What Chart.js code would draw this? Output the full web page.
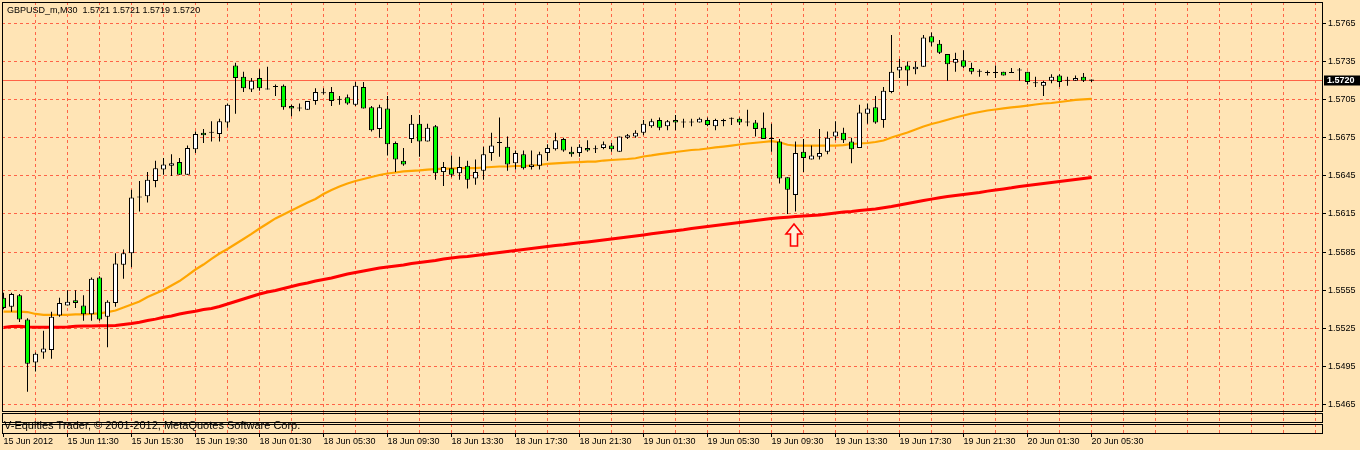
<!DOCTYPE html>
<html><head><meta charset="utf-8">
<script src="https://cdn.jsdelivr.net/npm/chart.js@4.4.1/dist/chart.umd.min.js"></script>
<style>html,body{margin:0;padding:0;background:#FFE4B5;overflow:hidden}canvas{display:block}</style>
</head><body>
<canvas id="c" width="1360" height="450"></canvas>
<script>
const symbolTitle = 'GBPUSD_m,M30';
const copyrightText = 'V-Equities Trader, \u00A9 2001-2012, MetaQuotes Software Corp.';
const timeLabels = ['15 Jun 2012','15 Jun 11:30','15 Jun 15:30','15 Jun 19:30','18 Jun 01:30','18 Jun 05:30',
  '18 Jun 09:30','18 Jun 13:30','18 Jun 17:30','18 Jun 21:30','19 Jun 01:30','19 Jun 05:30',
  '19 Jun 09:30','19 Jun 13:30','19 Jun 17:30','19 Jun 21:30','20 Jun 01:30','20 Jun 05:30'];
const priceTicks = [1.5765,1.5735,1.5705,1.5675,1.5645,1.5615,1.5585,1.5555,1.5525,1.5495,1.5465];

const openP = [1.5549,1.5542,1.5551,1.5532,1.5498,1.5506,1.5508,1.5535,1.5543,1.5547,
1.5543,1.5536,1.5565,1.5534,1.5545,1.5575,1.5584,1.5628,1.5629,1.5641,
1.5650,1.5653,1.5656,1.5646,1.5666,1.5679,1.5679,1.5678,1.5687,1.5732,
1.5723,1.5713,1.5722,1.5713,1.5715,1.5716,1.5700,1.5698,1.5697,1.5704,
1.5710,1.5711,1.5705,1.5707,1.5701,1.5715,1.5699,1.5682,1.5698,1.5671,
1.5657,1.5674,1.5686,1.5672,1.5684,1.5648,1.5651,1.5647,1.5653,1.5643,
1.5649,1.5663,1.5671,1.5668,1.5655,1.5662,1.5652,1.5653,1.5663,1.5666,
1.5674,1.5664,1.5663,1.5667,1.5666,1.5667,1.5669,1.5664,1.5675,1.5676,
1.5679,1.5684,1.5689,1.5684,1.5689,1.5687,1.5687,1.5687,1.5689,1.5684,
1.5688,1.5690,1.5690,1.5687,1.5687,1.5683,1.5674,1.5672,1.5644,1.5630,
1.5664,1.5658,1.5660,1.5664,1.5676,1.5679,1.5672,1.5667,1.5694,1.5699,
1.5689,1.5711,1.5728,1.5732,1.5729,1.5731,1.5755,1.5749,1.5741,1.5734,
1.5736,1.5730,1.5727,1.5726,1.5726,1.5727,1.5726,1.5728,1.5727,1.5718,
1.5716,1.5720,1.5724,1.5720,1.5720,1.5723,1.5721];
const highP = [1.5553,1.5553,1.5552,1.5533,1.5506,1.5523,1.5538,1.5549,1.5555,1.5555,
1.5551,1.5565,1.5566,1.5547,1.5584,1.5587,1.5634,1.5641,1.5648,1.5657,
1.5659,1.5662,1.5659,1.5669,1.5680,1.5682,1.5688,1.5690,1.5702,1.5734,
1.5727,1.5722,1.5729,1.5731,1.5717,1.5717,1.5701,1.5702,1.5704,1.5714,
1.5714,1.5715,1.5708,1.5709,1.5719,1.5719,1.5700,1.5701,1.5708,1.5672,
1.5667,1.5693,1.5693,1.5686,1.5685,1.5656,1.5661,1.5660,1.5657,1.5658,
1.5668,1.5679,1.5691,1.5676,1.5665,1.5665,1.5665,1.5664,1.5670,1.5679,
1.5675,1.5668,1.5670,1.5673,1.5669,1.5672,1.5671,1.5676,1.5678,1.5681,
1.5689,1.5690,1.5691,1.5689,1.5693,1.5690,1.5690,1.5691,1.5691,1.5690,
1.5690,1.5691,1.5691,1.5697,1.5689,1.5695,1.5686,1.5674,1.5644,1.5672,
1.5674,1.5669,1.5682,1.5680,1.5688,1.5683,1.5675,1.5701,1.5702,1.5708,
1.5715,1.5756,1.5737,1.5735,1.5735,1.5756,1.5758,1.5752,1.5741,1.5742,
1.5744,1.5734,1.5729,1.5728,1.5732,1.5727,1.5730,1.5730,1.5727,1.5723,
1.5720,1.5725,1.5725,1.5723,1.5724,1.5726,1.5721];
const lowP = [1.5540,1.5538,1.5530,1.5475,1.5491,1.5501,1.5501,1.5534,1.5543,1.5541,
1.5531,1.5531,1.5531,1.5510,1.5542,1.5564,1.5573,1.5617,1.5624,1.5636,
1.5646,1.5645,1.5646,1.5646,1.5663,1.5671,1.5672,1.5672,1.5683,1.5694,
1.5711,1.5711,1.5712,1.5713,1.5708,1.5697,1.5692,1.5696,1.5697,1.5701,
1.5709,1.5700,1.5701,1.5701,1.5700,1.5698,1.5680,1.5675,1.5661,1.5648,
1.5653,1.5671,1.5660,1.5672,1.5642,1.5637,1.5644,1.5642,1.5635,1.5638,
1.5642,1.5657,1.5660,1.5649,1.5650,1.5650,1.5650,1.5650,1.5657,1.5665,
1.5664,1.5660,1.5660,1.5664,1.5663,1.5666,1.5664,1.5664,1.5674,1.5675,
1.5677,1.5683,1.5681,1.5681,1.5681,1.5683,1.5684,1.5687,1.5684,1.5681,
1.5684,1.5685,1.5685,1.5684,1.5676,1.5674,1.5664,1.5639,1.5615,1.5617,
1.5648,1.5658,1.5658,1.5662,1.5673,1.5671,1.5655,1.5667,1.5686,1.5686,
1.5683,1.5710,1.5722,1.5716,1.5725,1.5731,1.5747,1.5741,1.5720,1.5727,
1.5730,1.5725,1.5723,1.5724,1.5722,1.5724,1.5726,1.5720,1.5717,1.5715,
1.5708,1.5718,1.5715,1.5716,1.5720,1.5719,1.5719];
const closeP = [1.5541,1.5552,1.5532,1.5497,1.5505,1.5509,1.5534,1.5545,1.5546,1.5545,
1.5536,1.5564,1.5532,1.5546,1.5576,1.5584,1.5628,1.5628,1.5642,1.5651,
1.5654,1.5655,1.5646,1.5667,1.5678,1.5677,1.5679,1.5688,1.5701,1.5722,
1.5714,1.5720,1.5714,1.5713,1.5715,1.5699,1.5698,1.5698,1.5704,1.5711,
1.5710,1.5704,1.5705,1.5702,1.5716,1.5698,1.5681,1.5699,1.5670,1.5658,
1.5654,1.5686,1.5672,1.5683,1.5647,1.5652,1.5646,1.5652,1.5642,1.5648,
1.5662,1.5669,1.5671,1.5654,1.5663,1.5651,1.5654,1.5662,1.5667,1.5673,
1.5665,1.5662,1.5668,1.5665,1.5666,1.5670,1.5666,1.5676,1.5677,1.5679,
1.5686,1.5688,1.5683,1.5688,1.5687,1.5687,1.5687,1.5690,1.5685,1.5689,
1.5689,1.5690,1.5687,1.5687,1.5682,1.5674,1.5674,1.5643,1.5634,1.5663,
1.5659,1.5661,1.5663,1.5675,1.5680,1.5673,1.5666,1.5695,1.5698,1.5687,
1.5712,1.5727,1.5731,1.5728,1.5731,1.5754,1.5750,1.5742,1.5733,1.5737,
1.5731,1.5727,1.5727,1.5726,1.5726,1.5724,1.5726,1.5728,1.5719,1.5718,
1.5719,1.5723,1.5719,1.5720,1.5722,1.5720,1.5720];
const maFast = [1.55382,1.55382,1.55382,1.55378,1.55363,1.55355,1.55355,1.55355,1.55355,1.55359,
1.55359,1.55363,1.55367,1.55378,1.55390,1.55414,1.55437,1.55461,1.55496,1.55524,
1.55552,1.55587,1.55622,1.55666,1.55713,1.55752,1.55796,1.55839,1.55874,1.55914,
1.55953,1.55993,1.56036,1.56075,1.56115,1.56146,1.56178,1.56209,1.56241,1.56268,
1.56307,1.56339,1.56367,1.56390,1.56410,1.56426,1.56441,1.56457,1.56469,1.56477,
1.56485,1.56489,1.56493,1.56500,1.56504,1.56508,1.56508,1.56512,1.56512,1.56512,
1.56516,1.56520,1.56524,1.56524,1.56528,1.56528,1.56532,1.56536,1.56544,1.56548,
1.56552,1.56556,1.56559,1.56563,1.56563,1.56571,1.56575,1.56579,1.56583,1.56589,
1.56603,1.56611,1.56622,1.56630,1.56638,1.56646,1.56654,1.56658,1.56666,1.56674,
1.56681,1.56689,1.56697,1.56705,1.56711,1.56717,1.56723,1.56715,1.56695,1.56689,
1.56689,1.56689,1.56689,1.56689,1.56689,1.56693,1.56701,1.56705,1.56709,1.56717,
1.56729,1.56752,1.56772,1.56792,1.56815,1.56839,1.56859,1.56874,1.56892,1.56910,
1.56926,1.56941,1.56953,1.56965,1.56973,1.56981,1.56989,1.56996,1.57004,1.57012,
1.57020,1.57024,1.57032,1.57040,1.57048,1.57052,1.57056];
const maSlow = [1.55256,1.55264,1.55267,1.55260,1.55259,1.55259,1.55259,1.55259,1.55260,1.55267,
1.55268,1.55268,1.55270,1.55270,1.55272,1.55280,1.55288,1.55298,1.55311,1.55322,
1.55337,1.55347,1.55363,1.55374,1.55385,1.55398,1.55406,1.55422,1.55441,1.55461,
1.55481,1.55500,1.55520,1.55536,1.55548,1.55563,1.55579,1.55595,1.55607,1.55622,
1.55634,1.55646,1.55662,1.55678,1.55689,1.55701,1.55713,1.55725,1.55733,1.55741,
1.55748,1.55760,1.55768,1.55776,1.55784,1.55796,1.55804,1.55811,1.55815,1.55823,
1.55831,1.55839,1.55847,1.55855,1.55863,1.55870,1.55878,1.55886,1.55894,1.55902,
1.55907,1.55915,1.55923,1.55930,1.55937,1.55945,1.55953,1.55961,1.55969,1.55977,
1.55985,1.55994,1.56002,1.56010,1.56018,1.56026,1.56036,1.56044,1.56052,1.56059,
1.56067,1.56075,1.56083,1.56091,1.56099,1.56107,1.56115,1.56120,1.56125,1.56130,
1.56134,1.56138,1.56142,1.56150,1.56158,1.56166,1.56170,1.56178,1.56183,1.56189,
1.56199,1.56209,1.56221,1.56233,1.56244,1.56256,1.56267,1.56278,1.56288,1.56296,
1.56304,1.56311,1.56319,1.56330,1.56339,1.56347,1.56356,1.56367,1.56374,1.56382,
1.56390,1.56398,1.56406,1.56414,1.56422,1.56430,1.56437];
const arrowBar = 98;

const BG = '#FFE4B5', GRID = '#FF6347', BID = '#FF6347', BULL = '#FFFFFF', BEAR = '#00FF00';
const FONT = 'Liberation Sans, Arial, sans-serif';
Chart.defaults.font.family = FONT;

const idx = openP.map((_, i) => i);
const bodies = idx.map(i => ({x: i, y: [openP[i], closeP[i]]}));
const wicks = idx.map(i => ({x: i, y: [lowP[i], highP[i]]}));
const fastPts = maFast.map((v, i) => ({x: i, y: v}));
const slowPts = maSlow.map((v, i) => ({x: i, y: v}));
const fmt = v => v.toFixed(4);

function alignPx(p) { return Math.round(p - 0.5) + 0.5; }

const decor = {
  id: 'decor',
  beforeDraw(chart) {
    const c = chart.ctx; c.save(); c.fillStyle = BG; c.fillRect(0, 0, chart.width, chart.height); c.restore();
  },
  beforeDatasetsDraw(chart) {
    const {ctx, chartArea: a, scales: {y}} = chart;
    const py = alignPx(y.getPixelForValue(closeP[closeP.length - 1]));
    ctx.save(); ctx.strokeStyle = BID; ctx.lineWidth = 1;
    ctx.beginPath(); ctx.moveTo(a.left, py); ctx.lineTo(a.right, py); ctx.stroke(); ctx.restore();
  },
  afterDraw(chart) {
    const {ctx, chartArea: a, scales: {x, y}} = chart;
    ctx.save();
    const L = a.left + 0.5, R = a.right + 0.5;
    // grid continued through the lower panels
    ctx.strokeStyle = GRID; ctx.lineWidth = 1; ctx.setLineDash([3, 3]);
    x.ticks.forEach(t => {
      if (t.value === 0) return;
      const px = alignPx(x.getPixelForValue(t.value));
      ctx.beginPath(); ctx.moveTo(px, a.bottom + 1); ctx.lineTo(px, a.bottom + 22); ctx.stroke();
    });
    ctx.setLineDash([]);
    // time tick marks
    ctx.strokeStyle = '#000';
    x.ticks.forEach(t => {
      if (t.value % 8 !== 0 || t.value / 8 >= timeLabels.length) return;
      const px = alignPx(x.getPixelForValue(t.value));
      ctx.beginPath(); ctx.moveTo(px, a.bottom + 22); ctx.lineTo(px, a.bottom + 26); ctx.stroke();
    });
    // frames
    ctx.strokeStyle = '#000'; ctx.lineWidth = 1;
    ctx.strokeRect(L, a.top + 0.5, R - L, a.bottom - a.top);
    ctx.strokeRect(L, a.bottom + 2.5, R - L, 9);
    ctx.strokeRect(L, a.bottom + 13.5, R - L, 9);
    // copyright
    ctx.fillStyle = '#000'; ctx.font = '11px ' + FONT; ctx.textBaseline = 'middle'; ctx.textAlign = 'left';
    ctx.fillText(copyrightText, 4, a.bottom + 15);
    // title
    const n = openP.length - 1;
    ctx.font = '9px ' + FONT;
    ctx.fillText(symbolTitle + '  ' + [openP[n], highP[n], lowP[n], closeP[n]].map(fmt).join(' '), 7, 10.5);
    // bid price box
    const py = alignPx(y.getPixelForValue(closeP[n]));
    ctx.fillStyle = '#000'; ctx.fillRect(a.right + 2, py - 5, chart.width - a.right - 2, 10);
    ctx.fillStyle = '#FFF'; ctx.font = 'bold 9px ' + FONT;
    ctx.fillText(fmt(closeP[n]), a.right + 5, py + 0.5);
    // arrow under the swing low
    const ax = x.getPixelForValue(arrowBar) + 6.5;
    const ay = y.getPixelForValue(lowP[arrowBar]) + 10;
    ctx.beginPath();
    ctx.moveTo(ax, ay); ctx.lineTo(ax + 8, ay + 10); ctx.lineTo(ax + 3.5, ay + 10); ctx.lineTo(ax + 3.5, ay + 22);
    ctx.lineTo(ax - 3.5, ay + 22); ctx.lineTo(ax - 3.5, ay + 10); ctx.lineTo(ax - 8, ay + 10); ctx.closePath();
    ctx.fillStyle = '#FFF0D8'; ctx.fill(); ctx.strokeStyle = '#FF0000'; ctx.lineWidth = 1.6; ctx.stroke();
    ctx.restore();
  }
};

new Chart(document.getElementById('c'), {
  type: 'bar',
  data: {datasets: [
    {type: 'bar', data: bodies, grouped: false, barThickness: 5, minBarLength: 1, inflateAmount: 0,
      borderWidth: 1, borderColor: '#000', borderSkipped: false,
      backgroundColor: c => { const i = c.dataIndex; return closeP[i] > openP[i] ? BULL : (closeP[i] < openP[i] ? BEAR : '#000'); }},
    {type: 'bar', data: wicks, grouped: false, barThickness: 1, inflateAmount: 0, borderWidth: 0, backgroundColor: '#000'},
    {type: 'line', data: fastPts, borderColor: '#FFA500', borderWidth: 2.2, pointRadius: 0, tension: 0},
    {type: 'line', data: slowPts, borderColor: '#FF0000', borderWidth: 3, pointRadius: 0, tension: 0}
  ]},
  options: {
    responsive: false, animation: false, devicePixelRatio: 1,
    layout: {padding: {left: 2, top: 2, right: 0, bottom: 0}},
    plugins: {legend: {display: false}, tooltip: {enabled: false}},
    scales: {
      x: {
        type: 'linear', position: 'bottom', min: -0.1875, max: 164.8125, offset: false, bounds: 'data',
        afterBuildTicks: s => { const t = []; for (let k = 0; k <= 164; k += 4) t.push({value: k}); s.ticks = t; },
        afterFit: s => { s.height = 39; s.paddingLeft = 0; s.paddingRight = 0; s.paddingTop = 0; s.paddingBottom = 0; },
        grid: {offset: false, drawTicks: false, lineWidth: 1, color: c => (c.tick && c.tick.value === 0) ? 'rgba(0,0,0,0)' : GRID},
        border: {display: false, dash: [3, 3]},
        ticks: {autoSkip: false, maxRotation: 0, minRotation: 0, align: 'start', padding: 25, color: '#000',
          font: {family: FONT, size: 9},
          callback: v => (v % 8 === 0 && v / 8 < timeLabels.length) ? timeLabels[v / 8] : ''}
      },
      y: {
        type: 'linear', position: 'right', min: 1.545988, max: 1.578193, bounds: 'data',
        afterBuildTicks: s => { s.ticks = priceTicks.slice().reverse().map(v => ({value: v})); },
        afterFit: s => { s.width = 38; s.paddingLeft = 0; s.paddingRight = 0; s.paddingTop = 0; s.paddingBottom = 0; },
        grid: {color: GRID, lineWidth: 1, tickColor: '#000', tickLength: 4, tickWidth: 1},
        border: {display: false, dash: [3, 3]},
        ticks: {padding: 2, color: '#000', font: {family: FONT, size: 9}, callback: v => fmt(v)}
      }
    }
  },
  plugins: [decor]
});
</script>
</body></html>
